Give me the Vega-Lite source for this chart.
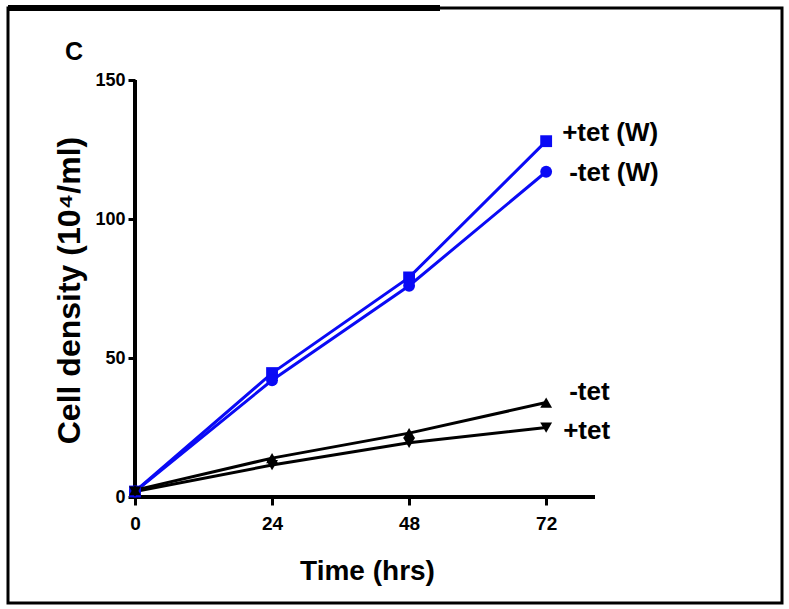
{
  "$schema": "https://vega.github.io/schema/vega-lite/v6.json",
  "width": 774,
  "height": 595,
  "autosize": {"type": "none"},
  "padding": {"left": 8, "top": 8, "right": 7, "bottom": 6},
  "background": "white",
  "config": {
    "view": {"stroke": "black", "strokeWidth": 3},
    "font": "Liberation Sans",
    "axis": {"grid": false, "domain": false, "labelColor": "black", "titleColor": "black", "tickColor": "black"}
  },
  "title": {
    "text": "C",
    "anchor": "start",
    "frame": "group",
    "orient": "top",
    "offset": -42,
    "dx": 57,
    "dy": 30,
    "baseline": "middle",
    "fontSize": 25,
    "fontWeight": "bold",
    "font": "Liberation Sans",
    "color": "black"
  },
  "data": {
    "values": [
      {"series": "+tet (W)", "time": 0, "density": 2},
      {"series": "+tet (W)", "time": 24, "density": 44.6},
      {"series": "+tet (W)", "time": 48, "density": 79},
      {"series": "+tet (W)", "time": 72, "density": 128},
      {"series": "-tet (W)", "time": 0, "density": 2},
      {"series": "-tet (W)", "time": 24, "density": 42},
      {"series": "-tet (W)", "time": 48, "density": 76},
      {"series": "-tet (W)", "time": 72, "density": 117},
      {"series": "-tet", "time": 0, "density": 2.5},
      {"series": "-tet", "time": 24, "density": 14},
      {"series": "-tet", "time": 48, "density": 23},
      {"series": "-tet", "time": 72, "density": 34},
      {"series": "+tet", "time": 0, "density": 2},
      {"series": "+tet", "time": 24, "density": 11.5},
      {"series": "+tet", "time": 48, "density": 19.5},
      {"series": "+tet", "time": 72, "density": 25}
    ]
  },
  "encoding": {
    "x": {
      "field": "time",
      "type": "quantitative",
      "scale": {"domain": [-22.24, 113.3], "nice": false, "zero": false},
      "axis": {
        "orient": "bottom",
        "offset": -106,
        "values": [0, 24, 48, 72],
        "tickSize": 8,
        "tickWidth": 3,
        "labelPadding": 9,
        "labelFontSize": 19,
        "labelFontWeight": "bold",
        "title": "Time (hrs)",
        "titleFontSize": 28,
        "titleFontWeight": "bold",
        "titleX": 359,
        "titleY": 74,
        "titleBaseline": "middle",
        "titleAlign": "center"
      }
    },
    "y": {
      "field": "density",
      "type": "quantitative",
      "scale": {"domain": [-38.1, 175.9], "nice": false, "zero": false},
      "axis": {
        "orient": "left",
        "offset": -127,
        "values": [0, 50, 100, 150],
        "tickSize": 7,
        "tickWidth": 3,
        "labelPadding": 3,
        "labelFontSize": 18,
        "labelFontWeight": "bold",
        "title": "Cell density (10⁴/ml)",
        "titleFontSize": 32,
        "titleFontWeight": "bold",
        "titleAngle": -90,
        "titleX": -66,
        "titleY": 282,
        "titleBaseline": "middle",
        "titleAlign": "center"
      }
    }
  },
  "layer": [
    {
      "mark": {"type": "rule", "color": "black", "strokeWidth": 6},
      "encoding": {"x": {"datum": -22.24}, "x2": {"datum": 53.4}, "y": {"datum": 175.9}}
    },
    {
      "mark": {"type": "rule", "color": "black", "strokeWidth": 3},
      "encoding": {"x": {"datum": -1}, "x2": {"datum": 80.5}, "y": {"datum": 0}}
    },
    {
      "mark": {"type": "rule", "color": "black", "strokeWidth": 3},
      "encoding": {"x": {"datum": 0}, "y": {"datum": 0}, "y2": {"datum": 150}}
    },
    {
      "mark": {"type": "line", "strokeWidth": 3},
      "encoding": {
        "color": {
          "field": "series",
          "type": "nominal",
          "scale": {"domain": ["+tet (W)", "-tet (W)", "-tet", "+tet"], "range": ["#0a0af5", "#0a0af5", "black", "black"]},
          "legend": null
        },
        "detail": {"field": "series"}
      }
    },
    {
      "mark": {"type": "point", "filled": true, "size": 140, "opacity": 1},
      "encoding": {
        "color": {
          "field": "series",
          "type": "nominal",
          "scale": {"domain": ["+tet (W)", "-tet (W)", "-tet", "+tet"], "range": ["#0a0af5", "#0a0af5", "black", "black"]},
          "legend": null
        },
        "shape": {
          "field": "series",
          "type": "nominal",
          "scale": {"domain": ["+tet (W)", "-tet (W)", "-tet", "+tet"], "range": ["square", "circle", "triangle-up", "triangle-down"]},
          "legend": null
        }
      }
    },
    {
      "transform": [{"filter": "datum.time == 72 && datum.series == '+tet (W)'"}],
      "mark": {"type": "text", "align": "left", "baseline": "middle", "dx": 16, "dy": -8, "fontSize": 26, "fontWeight": "bold", "color": "black"},
      "encoding": {"text": {"field": "series"}}
    },
    {
      "transform": [{"filter": "datum.time == 72 && datum.series == '-tet (W)'"}],
      "mark": {"type": "text", "align": "left", "baseline": "middle", "dx": 23, "dy": 1, "fontSize": 26, "fontWeight": "bold", "color": "black"},
      "encoding": {"text": {"field": "series"}}
    },
    {
      "transform": [{"filter": "datum.time == 72 && datum.series == '-tet'"}],
      "mark": {"type": "text", "align": "left", "baseline": "middle", "dx": 23, "dy": -11, "fontSize": 26, "fontWeight": "bold", "color": "black"},
      "encoding": {"text": {"field": "series"}}
    },
    {
      "transform": [{"filter": "datum.time == 72 && datum.series == '+tet'"}],
      "mark": {"type": "text", "align": "left", "baseline": "middle", "dx": 17, "dy": 3, "fontSize": 26, "fontWeight": "bold", "color": "black"},
      "encoding": {"text": {"field": "series"}}
    }
  ]
}
